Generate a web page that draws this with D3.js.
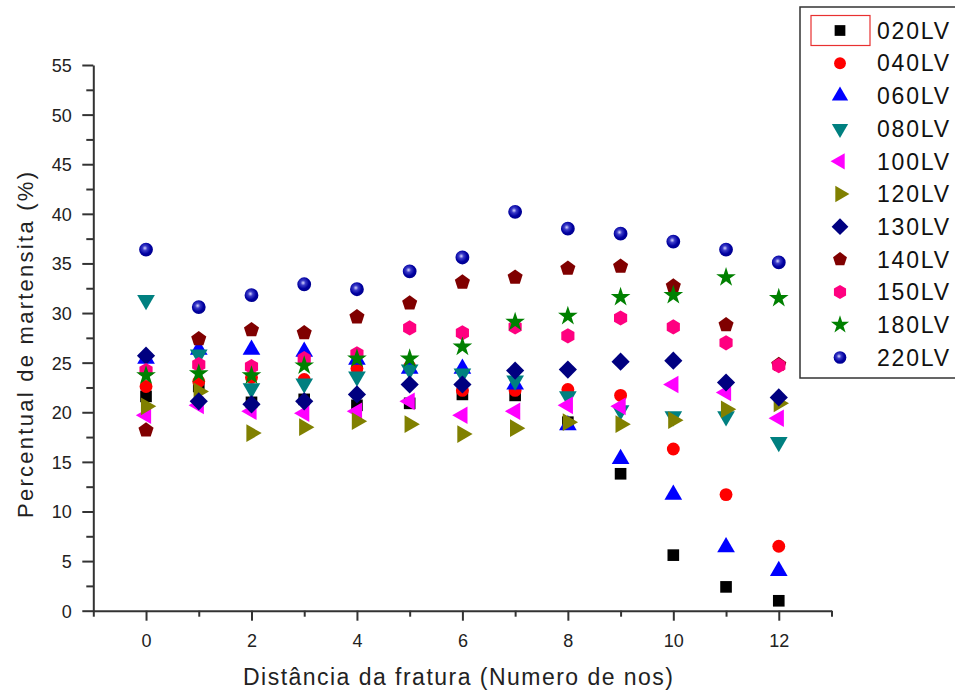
<!DOCTYPE html>
<html><head><meta charset="utf-8">
<script src="https://cdn.jsdelivr.net/npm/d3@7/dist/d3.min.js"></script>
<style>body{margin:0;background:#fff}svg{display:block}text{font-family:"Liberation Sans",Arial,sans-serif}</style>
</head><body>
<script>
const xValues = [0,1,2,3,4,5,6,7,8,9,10,11,12];
const seriesNames = ["020LV","040LV","060LV","080LV","100LV","120LV","130LV","140LV","150LV","180LV","220LV"];
const s020 = [21.6,22.6,21.0,21.3,20.7,20.9,21.8,21.7,19.0,13.8,5.6,2.4,1.0];
const s040 = [22.6,23.1,23.5,23.3,24.4,24.6,22.2,22.2,22.3,21.7,16.3,11.7,6.5];
const s060 = [25.4,26.3,26.3,26.1,25.3,24.4,24.4,22.8,18.7,15.3,11.7,6.4,4.0];
const s080 = [31.3,25.8,22.4,22.9,23.6,24.3,23.9,23.2,21.6,20.2,19.6,19.6,17.0];
const s100 = [19.7,20.7,20.1,19.9,20.1,21.1,19.7,20.1,20.7,20.6,22.8,22.0,19.4];
const s120 = [20.6,22.1,17.9,18.5,19.1,18.8,17.8,18.4,19.0,18.8,19.2,20.3,20.9];
const s130 = [25.7,21.1,20.8,21.1,21.8,22.8,22.8,24.2,24.3,25.1,25.2,23.0,21.5];
const s140 = [18.2,27.4,28.3,28.0,29.6,31.0,33.1,33.6,34.5,34.7,32.7,28.8,24.8];
const s150 = [24.2,24.8,24.6,25.4,25.9,28.5,28.0,28.6,27.7,29.5,28.6,27.0,24.7];
const s180 = [23.7,23.9,23.7,24.7,25.4,25.4,26.6,29.1,29.7,31.6,31.8,33.6,31.5];
const s220 = [36.4,30.6,31.8,32.9,32.4,34.2,35.6,40.2,38.5,38.0,37.2,36.4,35.1];
const seriesValues = [s020,s040,s060,s080,s100,s120,s130,s140,s150,s180,s220];
const colors = ["#000000","#ff0000","#0000ff","#008080","#ff00ff","#808000","#000080","#800000","#ff0080","#008000","#0000a0"];
const yTicks = [0,5,10,15,20,25,30,35,40,45,50,55];
const xTicks = [0,2,4,6,8,10,12];
const xTitle = "Distância da fratura (Numero de nos)";
const yTitle = "Percentual de martensita (%)";

const W = 955, H = 691;
const svg = d3.select("body").append("svg").attr("width", W).attr("height", H);
const defs = svg.append("defs");
const grad = defs.append("radialGradient").attr("id","sphere").attr("cx","0.42").attr("cy","0.4").attr("r","0.6");
grad.append("stop").attr("offset","0").attr("stop-color","#d8d8ff");
grad.append("stop").attr("offset","0.3").attr("stop-color","#3a3ac8");
grad.append("stop").attr("offset","0.7").attr("stop-color","#0000a0");
grad.append("stop").attr("offset","1").attr("stop-color","#000090");

const x = d3.scaleLinear().domain([-1, 13]).range([93.3, 831.5]);
const y = d3.scaleLinear().domain([0, 55]).range([610.7, 65]);

// axes
const axisColor = "#333";
const gx = svg.append("g").attr("transform", `translate(0,${y(0)})`);
gx.call(d3.axisBottom(x).tickValues(xTicks).tickSize(10).tickSizeOuter(0).tickFormat(d3.format("d")));
const gxMinor = svg.append("g").attr("transform", `translate(0,${y(0)})`);
gxMinor.call(d3.axisBottom(x).tickValues([-1,1,3,5,7,9,11,13]).tickSize(6).tickSizeOuter(0).tickFormat(""));
gxMinor.select(".domain").remove();

const gy = svg.append("g").attr("transform", `translate(${x(-1)},0)`);
gy.call(d3.axisLeft(y).tickValues(yTicks).tickSize(11).tickSizeOuter(0).tickFormat(d3.format("d")));
const minorY = d3.range(2.5, 55, 5);
const gyMinor = svg.append("g").attr("transform", `translate(${x(-1)},0)`);
gyMinor.call(d3.axisLeft(y).tickValues(minorY).tickSize(7).tickSizeOuter(0).tickFormat(""));
gyMinor.select(".domain").remove();

svg.selectAll(".domain").attr("stroke", axisColor).attr("stroke-width", 2);
svg.selectAll(".tick line").attr("stroke", axisColor).attr("stroke-width", 2);
gx.selectAll(".tick text").attr("font-size", 18).attr("fill", "#222").attr("y", 36.5).attr("dy", 0)
  .attr("font-family","Liberation Sans, Arial, sans-serif");
gy.selectAll(".tick text").attr("font-size", 18).attr("fill", "#222").attr("x", -21.5).attr("dy", "0.36em")
  .attr("font-family","Liberation Sans, Arial, sans-serif");

svg.append("text").attr("x", 458).attr("y", 685).attr("text-anchor","middle")
  .attr("font-size", 23).attr("fill","#222").attr("textLength", 430).attr("lengthAdjust","spacing").text(xTitle);
svg.append("text").attr("transform","translate(33,345) rotate(-90)").attr("text-anchor","middle")
  .attr("font-size", 22).attr("fill","#222").attr("textLength", 346).attr("lengthAdjust","spacing").text(yTitle);

// symbol shapes
const S = 150;
function triangle(dir){
  return {draw(ctx,size){
    const side = Math.sqrt(size*4/Math.sqrt(3))*0.95;
    const hh = side*Math.sqrt(3)/2;
    let pts;
    if(dir==="up") pts=[[0,-hh*2/3],[side/2,hh/3],[-side/2,hh/3]];
    else if(dir==="down") pts=[[0,hh*2/3],[side/2,-hh/3],[-side/2,-hh/3]];
    else if(dir==="left") pts=[[-hh*2/3,0],[hh/3,-side/2],[hh/3,side/2]];
    else pts=[[hh*2/3,0],[-hh/3,-side/2],[-hh/3,side/2]];
    ctx.moveTo(pts[0][0],pts[0][1]); ctx.lineTo(pts[1][0],pts[1][1]); ctx.lineTo(pts[2][0],pts[2][1]); ctx.closePath();
  }};
}
const pentagon = {draw(ctx,size){const r=Math.sqrt(size/2.38); for(let i=0;i<5;i++){const a=-Math.PI/2+i*2*Math.PI/5; const px=r*Math.cos(a), py=r*Math.sin(a); if(i===0)ctx.moveTo(px,py); else ctx.lineTo(px,py);} ctx.closePath();}};
const hexagon = {draw(ctx,size){const r=Math.sqrt(size/2.6); for(let i=0;i<6;i++){const a=-Math.PI/2+i*Math.PI/3; const px=r*Math.cos(a), py=r*Math.sin(a); if(i===0)ctx.moveTo(px,py); else ctx.lineTo(px,py);} ctx.closePath();}};
const diamond = {draw(ctx,size){const r=Math.sqrt(size/2)*1.05; ctx.moveTo(0,-r); ctx.lineTo(r,0); ctx.lineTo(0,r); ctx.lineTo(-r,0); ctx.closePath();}};
const square = {draw(ctx,size){const s=Math.sqrt(size)*0.95/2; ctx.rect(-s,-s,2*s,2*s);}};
const shapes = [square, d3.symbolCircle, triangle("up"), triangle("down"), triangle("left"), triangle("right"), diamond, pentagon, hexagon, d3.symbolStar, d3.symbolCircle];
const sizes = [S, 130, S, S, S, S, S, S, S, 120, 150];

const plot = svg.append("g");
seriesValues.forEach((vals, i) => {
  plot.selectAll(null).data(vals.map((v, j) => ({x: xValues[j], v})))
    .enter().append("path")
    .attr("transform", d => `translate(${x(d.x)},${y(d.v)})`)
    .attr("d", d3.symbol().type(shapes[i]).size(sizes[i]))
    .attr("fill", i === 10 ? "url(#sphere)" : colors[i]);
});

// legend
const lg = svg.append("g");
lg.append("rect").attr("x", 800).attr("y", 7).attr("width", 170).attr("height", 371)
  .attr("fill","#fff").attr("stroke","#333").attr("stroke-width",1.5);
lg.append("rect").attr("x", 811).attr("y", 15.5).attr("width", 59).attr("height", 30)
  .attr("fill","none").attr("stroke","#e83030").attr("stroke-width",1.2);
seriesNames.forEach((name, i) => {
  const cy = 30.5 + i * 32.7;
  lg.append("path").attr("transform", `translate(840,${cy})`)
    .attr("d", d3.symbol().type(shapes[i]).size(sizes[i]*0.85))
    .attr("fill", i === 10 ? "url(#sphere)" : colors[i]);
  lg.append("text").attr("x", 877).attr("y", cy).attr("dy","0.36em")
    .attr("font-size", 23).attr("fill","#111").attr("textLength", 72).attr("lengthAdjust","spacing").text(name);
});
</script>
</body></html>
